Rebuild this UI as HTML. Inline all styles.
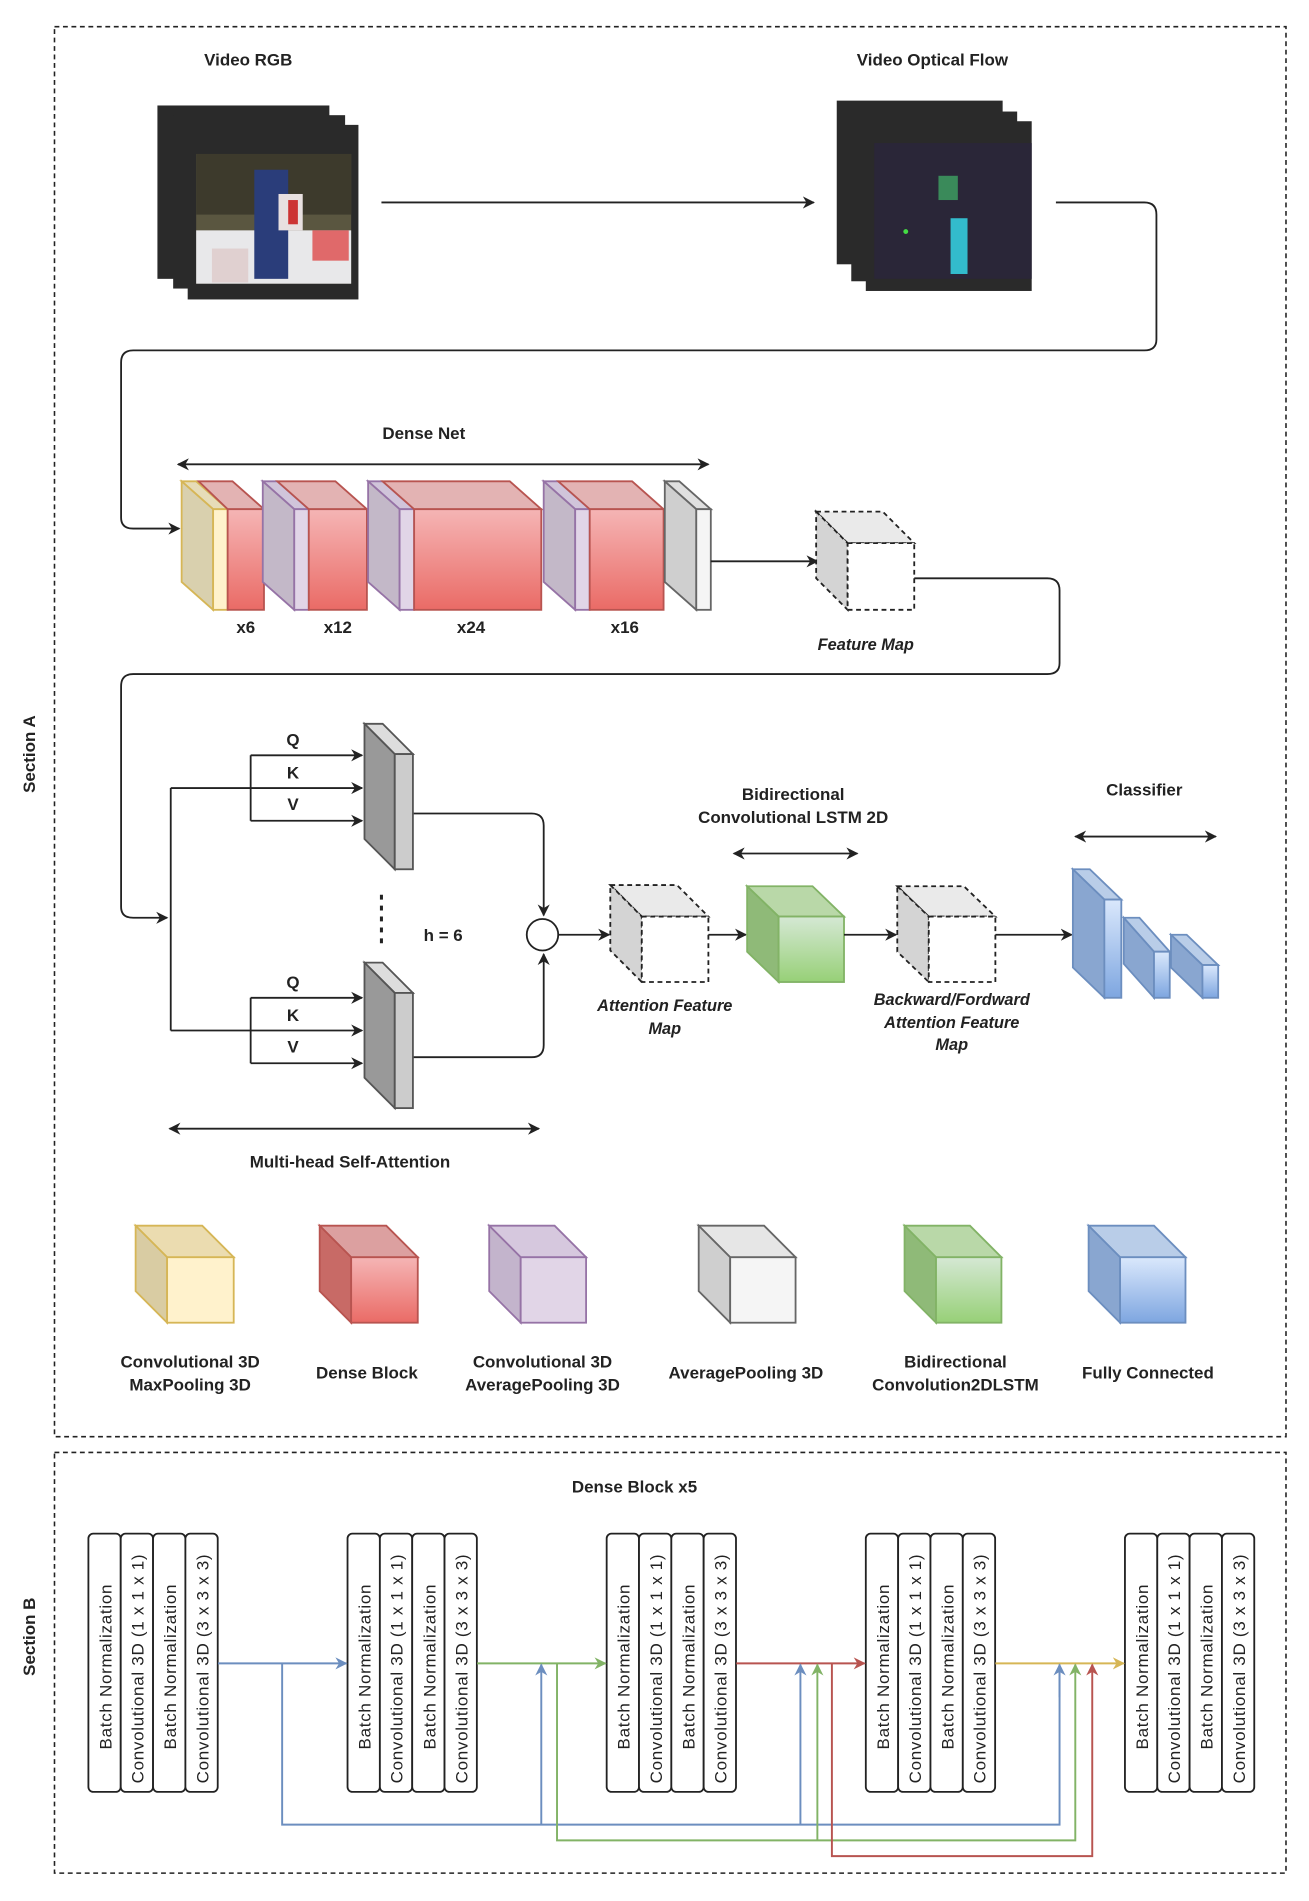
<!DOCTYPE html>
<html><head><meta charset="utf-8"><style>
html,body{margin:0;padding:0;background:#fff}
svg{display:block}
text{font-family:"Liberation Sans",sans-serif;fill:#222}
.b{font-weight:bold;font-size:14px}
.i{font-weight:bold;font-style:italic;font-size:13.5px}
.v{font-size:14px;letter-spacing:0.6px}
</style></head><body>
<svg width="1309" height="1901" viewBox="0 0 1081 1568" preserveAspectRatio="none" xmlns="http://www.w3.org/2000/svg">
<defs>
<marker id="a" viewBox="0 0 10 10" refX="9" refY="5" markerWidth="10" markerHeight="10" orient="auto-start-reverse" markerUnits="userSpaceOnUse"><path d="M0,0 L10,5 L0,10 L3,5z" fill="#222"/></marker>
<marker id="ab" viewBox="0 0 10 10" refX="9" refY="5" markerWidth="10" markerHeight="12" orient="auto" markerUnits="userSpaceOnUse"><path d="M0,0 L10,5 L0,10 L3,5z" fill="#6c8ebf"/></marker>
<marker id="ag" viewBox="0 0 10 10" refX="9" refY="5" markerWidth="10" markerHeight="12" orient="auto" markerUnits="userSpaceOnUse"><path d="M0,0 L10,5 L0,10 L3,5z" fill="#82b366"/></marker>
<marker id="ar" viewBox="0 0 10 10" refX="9" refY="5" markerWidth="10" markerHeight="12" orient="auto" markerUnits="userSpaceOnUse"><path d="M0,0 L10,5 L0,10 L3,5z" fill="#b85450"/></marker>
<marker id="ay" viewBox="0 0 10 10" refX="9" refY="5" markerWidth="10" markerHeight="12" orient="auto" markerUnits="userSpaceOnUse"><path d="M0,0 L10,5 L0,10 L3,5z" fill="#d6b656"/></marker>
<linearGradient id="gr" x1="0" y1="0" x2="0" y2="1"><stop offset="0" stop-color="#f5b5b5"/><stop offset="1" stop-color="#ea6b66"/></linearGradient>
<linearGradient id="gg" x1="0" y1="0" x2="0" y2="1"><stop offset="0" stop-color="#d5e8d4"/><stop offset="1" stop-color="#97d077"/></linearGradient>
<linearGradient id="gb" x1="0" y1="0" x2="0" y2="1"><stop offset="0" stop-color="#dae8fc"/><stop offset="1" stop-color="#7ea6e0"/></linearGradient>
</defs>

<rect x="45" y="22" width="1017" height="1163" fill="none" stroke="#222" stroke-width="1.3" stroke-dasharray="4,3"/>
<rect x="45" y="1198" width="1017" height="347" fill="none" stroke="#222" stroke-width="1.3" stroke-dasharray="4,3"/>
<text class="b" transform="translate(29,622) rotate(-90)" text-anchor="middle">Section A</text>
<text class="b" transform="translate(29,1350) rotate(-90)" text-anchor="middle">Section B</text>

<text class="b" x="205" y="54" text-anchor="middle">Video RGB</text>
<rect x="130" y="87" width="142" height="143" fill="#2a2a2a"/>
<rect x="143" y="95" width="142" height="143" fill="#2a2a2a"/>
<rect x="155" y="103" width="141" height="144" fill="#2a2a2a"/>
<rect x="162" y="127" width="128" height="107" fill="#5a5640"/>
<rect x="162" y="127" width="128" height="50" fill="#3d3a2c"/>
<rect x="162" y="190" width="128" height="44" fill="#e8e8ea"/>
<rect x="210" y="140" width="28" height="90" fill="#2a3d7a"/>
<rect x="230" y="160" width="20" height="30" fill="#e8e0e0"/>
<rect x="238" y="165" width="8" height="20" fill="#c33"/>
<rect x="258" y="190" width="30" height="25" fill="#d33" opacity="0.7"/>
<rect x="175" y="205" width="30" height="28" fill="#e0d0d0"/>
<text class="b" x="770" y="54" text-anchor="middle">Video Optical Flow</text>
<rect x="691" y="83" width="137" height="135" fill="#2a2a2a"/>
<rect x="703" y="92" width="137" height="140" fill="#2a2a2a"/>
<rect x="715" y="100" width="137" height="140" fill="#2a2a2a"/>
<rect x="722" y="118" width="130" height="112" fill="#2a2638"/>
<rect x="775" y="145" width="16" height="20" fill="#3a8a5a"/>
<rect x="785" y="180" width="14" height="46" fill="#33bbcc"/>
<circle cx="748" cy="191" r="2" fill="#4d4"/>
<line x1="315" y1="167" x2="672" y2="167" stroke="#222" stroke-width="1.5" marker-end="url(#a)"/>
<path d="M872,167 H945 Q955,167 955,177 V280 Q955,289 945,289 H110 Q100,289 100,299 V427 Q100,436 110,436 H148" fill="none" stroke="#222" stroke-width="1.5" marker-end="url(#a)"/>

<text class="b" x="350" y="362" text-anchor="middle">Dense Net</text>
<line x1="147" y1="383" x2="585" y2="383" stroke="#222" stroke-width="1.5" marker-start="url(#a)" marker-end="url(#a)"/>
<g stroke-width="1.5">
<polygon points="150,397 162,397 188,420 176,420" fill="#e6dcb8" stroke="#d6b656"/>
<polygon points="150,397 176,420 176,503 150,480" fill="#d9d0ae" stroke="#d6b656"/>
<rect x="176" y="420" width="12" height="83" fill="#fff2cc" stroke="#d6b656"/>
<polygon points="164,397 192,397 218,420 188,420" fill="#e3b3b3" stroke="#b85450"/>
<rect x="188" y="420" width="30" height="83" fill="url(#gr)" stroke="#b85450"/>
<polygon points="217,397 229,397 255,420 243,420" fill="#d0c4da" stroke="#9673a6"/>
<polygon points="217,397 243,420 243,503 217,480" fill="#c3b8c8" stroke="#9673a6"/>
<rect x="243" y="420" width="12" height="83" fill="#e1d5e7" stroke="#9673a6"/>
<polygon points="229,397 277,397 303,420 255,420" fill="#e3b3b3" stroke="#b85450"/>
<rect x="255" y="420" width="48" height="83" fill="url(#gr)" stroke="#b85450"/>
<polygon points="304,397 316,397 342,420 330,420" fill="#d0c4da" stroke="#9673a6"/>
<polygon points="304,397 330,420 330,503 304,480" fill="#c3b8c8" stroke="#9673a6"/>
<rect x="330" y="420" width="12" height="83" fill="#e1d5e7" stroke="#9673a6"/>
<polygon points="316,397 421,397 447,420 342,420" fill="#e3b3b3" stroke="#b85450"/>
<rect x="342" y="420" width="105" height="83" fill="url(#gr)" stroke="#b85450"/>
<polygon points="449,397 461,397 487,420 475,420" fill="#d0c4da" stroke="#9673a6"/>
<polygon points="449,397 475,420 475,503 449,480" fill="#c3b8c8" stroke="#9673a6"/>
<rect x="475" y="420" width="12" height="83" fill="#e1d5e7" stroke="#9673a6"/>
<polygon points="461,397 522,397 548,420 487,420" fill="#e3b3b3" stroke="#b85450"/>
<rect x="487" y="420" width="61" height="83" fill="url(#gr)" stroke="#b85450"/>
<polygon points="549,397 561,397 587,420 575,420" fill="#e0e0e0" stroke="#666"/>
<polygon points="549,397 575,420 575,503 549,480" fill="#cfcfcf" stroke="#666"/>
<rect x="575" y="420" width="12" height="83" fill="#f5f5f5" stroke="#666"/>
</g>
<text class="b" x="203" y="522" text-anchor="middle">x6</text>
<text class="b" x="279" y="522" text-anchor="middle">x12</text>
<text class="b" x="389" y="522" text-anchor="middle">x24</text>
<text class="b" x="516" y="522" text-anchor="middle">x16</text>

<line x1="587" y1="463" x2="675" y2="463" stroke="#222" stroke-width="1.5" marker-end="url(#a)"/>
<g stroke="#222" stroke-width="1.5" stroke-dasharray="4,3">
<polygon points="674,422 729,422 755,448 700,448" fill="#eaeaea"/>
<polygon points="674,422 700,448 700,503 674,477" fill="#d4d4d4"/>
<rect x="700" y="448" width="55" height="55" fill="#fff"/>
</g>
<text class="i" x="715" y="536" text-anchor="middle">Feature Map</text>
<path d="M755,477 H865 Q875,477 875,487 V547 Q875,556 865,556 H110 Q100,556 100,566 V748 Q100,757 110,757 H138" fill="none" stroke="#222" stroke-width="1.5" marker-end="url(#a)"/>

<g stroke="#222" stroke-width="1.5" fill="none">
<line x1="141" y1="650" x2="141" y2="850"/>
<line x1="141" y1="650" x2="299" y2="650" marker-end="url(#a)"/>
<line x1="207" y1="623" x2="207" y2="677"/>
<line x1="207" y1="623" x2="299" y2="623" marker-end="url(#a)"/>
<line x1="207" y1="677" x2="299" y2="677" marker-end="url(#a)"/>
<line x1="141" y1="850" x2="299" y2="850" marker-end="url(#a)"/>
<line x1="207" y1="823" x2="207" y2="877"/>
<line x1="207" y1="823" x2="299" y2="823" marker-end="url(#a)"/>
<line x1="207" y1="877" x2="299" y2="877" marker-end="url(#a)"/>
<path d="M341,671 H439 Q449,671 449,681 V755" marker-end="url(#a)"/>
<path d="M341,872 H439 Q449,872 449,862 V787" marker-end="url(#a)"/>
<line x1="315" y1="738" x2="315" y2="783" stroke-dasharray="4,5" stroke-width="2.5"/>
</g>
<text class="b" x="242" y="615" text-anchor="middle">Q</text>
<text class="b" x="242" y="642" text-anchor="middle">K</text>
<text class="b" x="242" y="668" text-anchor="middle">V</text>
<text class="b" x="242" y="815" text-anchor="middle">Q</text>
<text class="b" x="242" y="842" text-anchor="middle">K</text>
<text class="b" x="242" y="868" text-anchor="middle">V</text>
<g stroke="#555" stroke-width="1.5">
<polygon points="301,597 316,597 341,622 326,622" fill="#ddd"/>
<polygon points="301,597 326,622 326,717 301,692" fill="#999"/>
<rect x="326" y="622" width="15" height="95" fill="#ccc"/>
<polygon points="301,794 316,794 341,819 326,819" fill="#ddd"/>
<polygon points="301,794 326,819 326,914 301,889" fill="#999"/>
<rect x="326" y="819" width="15" height="95" fill="#ccc"/>
</g>
<text class="b" x="366" y="776" text-anchor="middle">h = 6</text>
<circle cx="448" cy="771" r="13" fill="#fff" stroke="#222" stroke-width="1.5"/>
<line x1="461" y1="771" x2="503" y2="771" stroke="#222" stroke-width="1.5" marker-end="url(#a)"/>
<g stroke="#222" stroke-width="1.5" stroke-dasharray="4,3">
<polygon points="504,730 559,730 585,756 530,756" fill="#eaeaea"/>
<polygon points="504,730 530,756 530,810 504,784" fill="#d4d4d4"/>
<rect x="530" y="756" width="55" height="54" fill="#fff"/>
<polygon points="741,731 796,731 822,756 767,756" fill="#eaeaea"/>
<polygon points="741,731 767,756 767,810 741,785" fill="#d4d4d4"/>
<rect x="767" y="756" width="55" height="54" fill="#fff"/>
</g>
<text class="i" x="549" y="834" text-anchor="middle">Attention Feature</text>
<text class="i" x="549" y="853" text-anchor="middle">Map</text>
<line x1="585" y1="771" x2="616" y2="771" stroke="#222" stroke-width="1.5" marker-end="url(#a)"/>
<g stroke="#82b366" stroke-width="1.5">
<polygon points="617,731 671,731 697,756 643,756" fill="#b9d8a8"/>
<polygon points="617,731 643,756 643,810 617,785" fill="#8fba78"/>
<rect x="643" y="756" width="54" height="54" fill="url(#gg)"/>
</g>
<text class="b" x="655" y="660" text-anchor="middle">Bidirectional</text>
<text class="b" x="655" y="679" text-anchor="middle">Convolutional LSTM 2D</text>
<line x1="606" y1="704" x2="708" y2="704" stroke="#222" stroke-width="1.5" marker-start="url(#a)" marker-end="url(#a)"/>
<line x1="697" y1="771" x2="740" y2="771" stroke="#222" stroke-width="1.5" marker-end="url(#a)"/>
<text class="i" x="786" y="829" text-anchor="middle">Backward/Fordward</text>
<text class="i" x="786" y="848" text-anchor="middle">Attention Feature</text>
<text class="i" x="786" y="866" text-anchor="middle">Map</text>
<line x1="822" y1="771" x2="885" y2="771" stroke="#222" stroke-width="1.5" marker-end="url(#a)"/>
<g stroke="#6c8ebf" stroke-width="1.5">
<polygon points="886,717 900,717 926,742 912,742" fill="#b9cde8"/>
<polygon points="886,717 912,742 912,823 886,798" fill="#89a6d0"/>
<rect x="912" y="742" width="14" height="81" fill="url(#gb)"/>
<polygon points="928,757 941,757 966,785 953,785" fill="#b9cde8"/>
<polygon points="928,757 953,785 953,823 928,795" fill="#89a6d0"/>
<rect x="953" y="785" width="13" height="38" fill="url(#gb)"/>
<polygon points="967,771 980,771 1006,796 993,796" fill="#b9cde8"/>
<polygon points="967,771 993,796 993,823 967,798" fill="#89a6d0"/>
<rect x="993" y="796" width="13" height="27" fill="url(#gb)"/>
</g>
<text class="b" x="945" y="656" text-anchor="middle">Classifier</text>
<line x1="888" y1="690" x2="1004" y2="690" stroke="#222" stroke-width="1.5" marker-start="url(#a)" marker-end="url(#a)"/>
<line x1="140" y1="931" x2="445" y2="931" stroke="#222" stroke-width="1.5" marker-start="url(#a)" marker-end="url(#a)"/>
<text class="b" x="289" y="963" text-anchor="middle">Multi-head Self-Attention</text>

<g stroke-width="1.5">
<g stroke="#d6b656"><polygon points="112,1011 167,1011 193,1037 138,1037" fill="#ebdcb0"/><polygon points="112,1011 138,1037 138,1091 112,1065" fill="#d9cca3"/><rect x="138" y="1037" width="55" height="54" fill="#fff2cc"/></g>
<g stroke="#b85450"><polygon points="264,1011 319,1011 345,1037 290,1037" fill="#dca0a0"/><polygon points="264,1011 290,1037 290,1091 264,1065" fill="#c86a66"/><rect x="290" y="1037" width="55" height="54" fill="url(#gr)"/></g>
<g stroke="#9673a6"><polygon points="404,1011 458,1011 484,1037 430,1037" fill="#d6c8de"/><polygon points="404,1011 430,1037 430,1091 404,1065" fill="#c3b4cc"/><rect x="430" y="1037" width="54" height="54" fill="#e1d5e7"/></g>
<g stroke="#666"><polygon points="577,1011 631,1011 657,1037 603,1037" fill="#e6e6e6"/><polygon points="577,1011 603,1037 603,1091 577,1065" fill="#cfcfcf"/><rect x="603" y="1037" width="54" height="54" fill="#f5f5f5"/></g>
<g stroke="#82b366"><polygon points="747,1011 801,1011 827,1037 773,1037" fill="#b9d8a8"/><polygon points="747,1011 773,1037 773,1091 747,1065" fill="#8fba78"/><rect x="773" y="1037" width="54" height="54" fill="url(#gg)"/></g>
<g stroke="#6c8ebf"><polygon points="899,1011 953,1011 979,1037 925,1037" fill="#b9cde8"/><polygon points="899,1011 925,1037 925,1091 899,1065" fill="#89a6d0"/><rect x="925" y="1037" width="54" height="54" fill="url(#gb)"/></g>
</g>
<text class="b" x="157" y="1128" text-anchor="middle">Convolutional 3D</text>
<text class="b" x="157" y="1147" text-anchor="middle">MaxPooling 3D</text>
<text class="b" x="303" y="1137" text-anchor="middle">Dense Block</text>
<text class="b" x="448" y="1128" text-anchor="middle">Convolutional 3D</text>
<text class="b" x="448" y="1147" text-anchor="middle">AveragePooling 3D</text>
<text class="b" x="616" y="1137" text-anchor="middle">AveragePooling 3D</text>
<text class="b" x="789" y="1128" text-anchor="middle">Bidirectional</text>
<text class="b" x="789" y="1147" text-anchor="middle">Convolution2DLSTM</text>
<text class="b" x="948" y="1137" text-anchor="middle">Fully Connected</text>

<text class="b" x="524" y="1231" text-anchor="middle">Dense Block x5</text>
<g id="grp">
<rect x="73" y="1265" width="26.7" height="213" rx="4" fill="#fff" stroke="#222" stroke-width="1.5"/>
<rect x="99.7" y="1265" width="26.7" height="213" rx="4" fill="#fff" stroke="#222" stroke-width="1.5"/>
<rect x="126.4" y="1265" width="26.7" height="213" rx="4" fill="#fff" stroke="#222" stroke-width="1.5"/>
<rect x="153.1" y="1265" width="26.7" height="213" rx="4" fill="#fff" stroke="#222" stroke-width="1.5"/>
<text class="v" transform="translate(92,1443) rotate(-90)">Batch Normalization</text>
<text class="v" transform="translate(118.5,1471) rotate(-90)">Convolutional 3D (1 x 1 x 1)</text>
<text class="v" transform="translate(145.5,1443) rotate(-90)">Batch Normalization</text>
<text class="v" transform="translate(172,1471) rotate(-90)">Convolutional 3D (3 x 3 x 3)</text>
</g>
<use href="#grp" x="214"/>
<use href="#grp" x="428"/>
<use href="#grp" x="642"/>
<use href="#grp" x="856"/>
<g fill="none" stroke-width="1.6">
<line x1="180" y1="1372" x2="286" y2="1372" stroke="#6c8ebf" marker-end="url(#ab)"/>
<line x1="394" y1="1372" x2="500" y2="1372" stroke="#82b366" marker-end="url(#ag)"/>
<line x1="608" y1="1372" x2="714" y2="1372" stroke="#b85450" marker-end="url(#ar)"/>
<line x1="822" y1="1372" x2="928" y2="1372" stroke="#d6b656" marker-end="url(#ay)"/>
<path d="M233,1372 V1505 H875 V1373" stroke="#6c8ebf"/>
<path d="M447,1505 V1373" stroke="#6c8ebf" marker-end="url(#ab)"/>
<path d="M661,1505 V1373" stroke="#6c8ebf" marker-end="url(#ab)"/>
<path d="M875,1400 V1373" stroke="#6c8ebf" marker-end="url(#ab)"/>
<path d="M460,1372 V1518 H888 V1373" stroke="#82b366" marker-end="url(#ag)"/>
<path d="M675,1518 V1373" stroke="#82b366" marker-end="url(#ag)"/>
<path d="M687,1372 V1531 H902 V1373" stroke="#b85450" marker-end="url(#ar)"/>
</g>
</svg>
</body></html>
